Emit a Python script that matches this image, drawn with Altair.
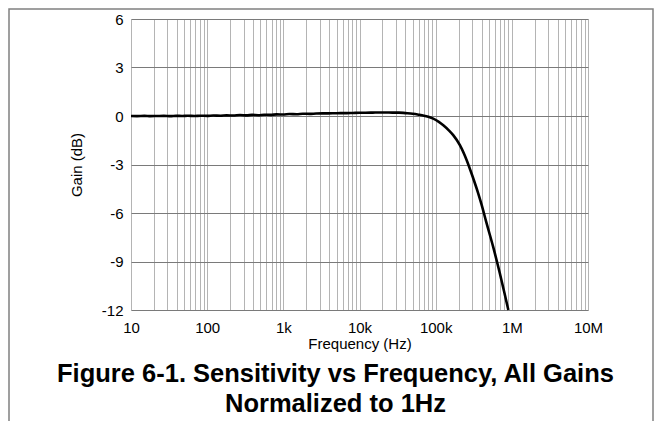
import altair as alt
import pandas as pd

# Frequency (Hz) and normalized gain (dB)
freq = [10, 12, 15, 18, 22, 27, 33, 39, 47, 56, 68, 82,
        100, 120, 150, 180, 220, 270, 330, 390, 470, 560, 680, 820,
        1000, 1200, 1500, 1800, 2200, 2700, 3300, 3900, 4700, 5600, 6800, 8200,
        10000, 12000, 15000, 18000, 22000, 27000, 33000, 40000, 50000, 60000, 70000, 80000, 93000,
        110000, 126000, 150000, 170000, 208000, 254000, 311000, 360000, 399000, 464000,
        569000, 693000, 800000, 900000]
gain = [0.00, -0.01, 0.01, -0.01, 0.00, 0.01, -0.01, 0.01, 0.00, 0.02, 0.00, 0.02,
        0.01, 0.03, 0.02, 0.04, 0.03, 0.06, 0.04, 0.07, 0.05, 0.08, 0.07, 0.10,
        0.09, 0.12, 0.11, 0.14, 0.13, 0.15, 0.16, 0.16, 0.17, 0.18, 0.18, 0.19,
        0.20, 0.20, 0.21, 0.22, 0.22, 0.21, 0.21, 0.18, 0.14, 0.08, 0.02, -0.05, -0.16,
        -0.36, -0.57, -0.90, -1.18, -1.80, -2.70, -3.85, -4.75, -5.45, -6.60,
        -8.10, -9.70, -10.95, -12.00]

# Axis ticks
x_grid = [m * 10 ** k for k in range(1, 7) for m in range(1, 10)] + [10000000]
x_labels = {10: "10", 100: "100", 1000: "1k", 10000: "10k", 100000: "100k",
            1000000: "1M", 10000000: "10M"}
y_ticks = [-12, -9, -6, -3, 0, 3, 6]

title_lines = ["Figure 6-1. Sensitivity vs Frequency, All Gains", "Normalized to 1Hz"]

df = pd.DataFrame({"freq": freq, "gain": gain})

label_expr = "".join(
    f"datum.value == {v} ? '{t}' : " for v, t in x_labels.items()
) + "''"

FONT = "Liberation Sans"
W, H = 457, 291

x_enc = alt.X(
    "freq:Q",
    scale=alt.Scale(type="log", domain=[10, 10000000], nice=False),
    axis=alt.Axis(
        values=x_grid, labelExpr=label_expr, title="Frequency (Hz)",
        grid=True, gridColor="#b4b4b4", gridWidth=1, gridOpacity=1,
        ticks=False, domain=False, labelOverlap=False, labelFlush=False,
        labelFontSize=15, labelPadding=10, titleFontSize=15, titlePadding=1,
        labelFont=FONT, titleFont=FONT, titleFontWeight="normal",
        labelColor="black", titleColor="black",
    ),
)
y_enc = alt.Y(
    "gain:Q",
    scale=alt.Scale(domain=[-12, 6], nice=False, zero=False),
    axis=alt.Axis(
        values=y_ticks, title="Gain (dB)", labelExpr="'' + datum.value",
        grid=True, gridColor="#7a7a7a", gridWidth=1, gridOpacity=1,
        ticks=False, domain=False, labelFlush=False, labelOverlap=False,
        labelFontSize=15, labelPadding=8, titleFontSize=15, titlePadding=17,
        labelFont=FONT, titleFont=FONT, titleFontWeight="normal",
        labelColor="black", titleColor="black",
    ),
)

line = alt.Chart(df).mark_line(
    color="black", strokeWidth=2.6, interpolate="monotone"
).encode(x=x_enc, y=y_enc)

one = alt.Data(values=[{"k": 0}])

border = alt.Chart(one).mark_rect(
    filled=False, stroke="#808080", strokeWidth=1.5, fill=None
).encode(
    x=alt.value(-122), x2=alt.value(W + 65),
    y=alt.value(-10), y2=alt.value(H + 140),
)

title1 = alt.Chart(one).mark_text(
    font=FONT, fontSize=25.5, fontWeight="bold", color="black",
    align="center", baseline="alphabetic",
).encode(x=alt.value(204.5), y=alt.value(363), text=alt.value(title_lines[0]))

title2 = alt.Chart(one).mark_text(
    font=FONT, fontSize=25.5, fontWeight="bold", color="black",
    align="center", baseline="alphabetic",
).encode(x=alt.value(204.5), y=alt.value(393), text=alt.value(title_lines[1]))

chart = alt.layer(line, border, title1, title2).properties(
    width=W,
    height=H,
    autosize=alt.AutoSizeParams(type="none"),
    padding={"left": 123, "top": 11, "right": 66, "bottom": 111},
).configure_view(
    stroke="black", strokeWidth=2.6
).configure(background="white")

chart.save("out.html", embed_options={"renderer": "svg", "actions": False})
